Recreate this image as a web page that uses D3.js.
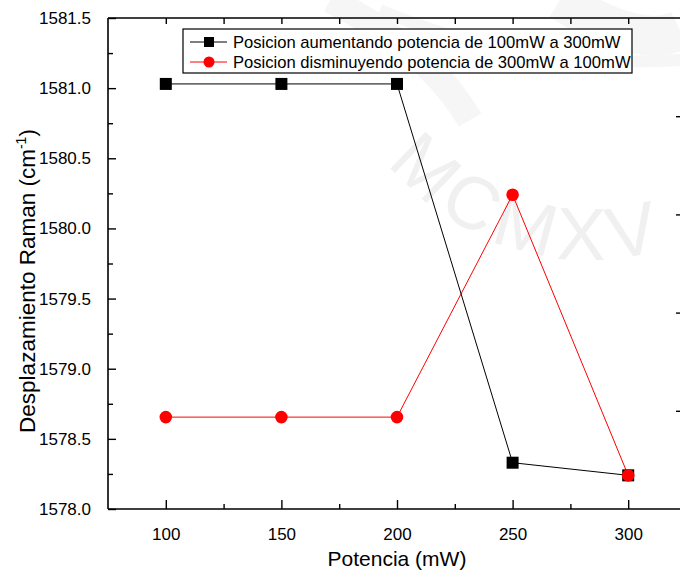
<!DOCTYPE html>
<html>
<head>
<meta charset="utf-8">
<script src="https://cdn.jsdelivr.net/npm/d3@7"></script>
<style>
  html, body { margin: 0; padding: 0; background: #fff; }
  svg { display: block; font-family: "Liberation Sans", Arial, sans-serif; }
</style>
</head>
<body>
<svg id="chart" width="680" height="573"></svg>
<script>
// Laser power (mW) and Raman G-band position (cm^-1)
const potencia = [100, 150, 200, 250, 300];
const aumentando = [1581.03, 1581.03, 1581.03, 1578.33, 1578.24];
const disminuyendo = [1578.655, 1578.655, 1578.655, 1580.24, 1578.24];
const xTicks = [100, 150, 200, 250, 300];
const yTicks = [1578.0, 1578.5, 1579.0, 1579.5, 1580.0, 1580.5, 1581.0, 1581.5];
const seriesNames = [
  "Posicion aumentando potencia de 100mW a 300mW",
  "Posicion disminuyendo potencia de 300mW a 100mW"
];

const svg = d3.select("#chart");
const m = { left: 108, top: 18, right: 686, bottom: 509 };

const x = d3.scaleLinear().domain([75, 325]).range([m.left, m.right]);
const y = d3.scaleLinear().domain([1578.0, 1581.5]).range([m.bottom, m.top]);
const yRight = d3.scaleLinear().domain([0, 5]).range([m.bottom, m.top]);

// faint seal watermark behind the plot
const wm = svg.append("g").attr("fill", "none").attr("stroke", "#f6f6f6");
wm.append("path").attr("d", "M 330 0 Q 430 50 470 120").attr("stroke-width", 26);
wm.append("path").attr("d", "M 560 0 Q 640 50 680 30").attr("stroke-width", 40);
wm.append("path").attr("d", "M 380 10 Q 520 70 680 60").attr("stroke-width", 12);
svg.append("defs").append("path").attr("id", "sealArc")
  .attr("d", "M 365 130 A 260 260 0 0 0 815 130");
svg.append("text").attr("font-size", 74).attr("fill", "#f0f0f0")
  .attr("letter-spacing", 7)
  .append("textPath").attr("href", "#sealArc").attr("startOffset", 40)
  .text("MCMXV");

const axisColor = "#000";
const g = svg.append("g");

// frame
[[m.left, m.bottom, m.right, m.bottom], [m.left, m.top, m.right, m.top],
 [m.left, m.top, m.left, m.bottom], [m.right, m.top, m.right, m.bottom]].forEach(s => {
  g.append("line").attr("x1", s[0]).attr("y1", s[1]).attr("x2", s[2]).attr("y2", s[3])
    .attr("stroke", axisColor).attr("stroke-width", 1.6);
});

// bottom axis (inward ticks)
const xb = d3.axisBottom(x).tickValues(xTicks).tickSize(-9).tickPadding(19).tickFormat(d3.format("d"));
const gxb = g.append("g").attr("transform", `translate(0,${m.bottom})`).call(xb);
gxb.select(".domain").remove();
gxb.selectAll(".tick line").attr("stroke-width", 1.4);
gxb.selectAll(".tick text").attr("font-size", 17).attr("fill", "#000").attr("font-family", "Liberation Sans, Arial");
const xMinor = [125, 175, 225, 275];
g.append("g").attr("transform", `translate(0,${m.bottom})`)
  .call(d3.axisBottom(x).tickValues(xMinor).tickSize(-5).tickFormat(""))
  .call(s => { s.select(".domain").remove(); s.selectAll("line").attr("stroke-width", 1.4); });

// top axis ticks
g.append("g").attr("transform", `translate(0,${m.top})`)
  .call(d3.axisTop(x).tickValues(xTicks.concat(xMinor)).tickSize(-6).tickFormat(""))
  .call(s => { s.select(".domain").remove(); s.selectAll("line").attr("stroke-width", 1.4); });

// left axis
const yl = d3.axisLeft(y).tickValues(yTicks).tickSize(-8).tickPadding(17).tickFormat(d3.format(".1f"));
const gyl = g.append("g").attr("transform", `translate(${m.left},0)`).call(yl);
gyl.select(".domain").remove();
gyl.selectAll(".tick line").attr("stroke-width", 1.4);
gyl.selectAll(".tick text").attr("font-size", 17).attr("fill", "#000").attr("font-family", "Liberation Sans, Arial");
const yMinor = d3.range(1578.25, 1581.5, 0.5);
g.append("g").attr("transform", `translate(${m.left},0)`)
  .call(d3.axisLeft(y).tickValues(yMinor).tickSize(-5).tickFormat(""))
  .call(s => { s.select(".domain").remove(); s.selectAll("line").attr("stroke-width", 1.4); });

// right axis ticks
g.append("g").attr("transform", `translate(${m.right},0)`)
  .call(d3.axisRight(yRight).tickValues([1, 2, 3, 4]).tickSize(-10).tickFormat(""))
  .call(s => { s.select(".domain").remove(); s.selectAll("line").attr("stroke-width", 1.4); });

// axis titles
svg.append("text").attr("x", 397).attr("y", 566).attr("text-anchor", "middle")
  .attr("font-size", 21).attr("fill", "#000").text("Potencia (mW)");
const yt = svg.append("text").attr("transform", "translate(35,281) rotate(-90)")
  .attr("text-anchor", "middle").attr("font-size", 22.5).attr("fill", "#000");
yt.append("tspan").text("Desplazamiento Raman (cm");
yt.append("tspan").attr("font-size", 14).attr("dy", -9).text("-1");
yt.append("tspan").attr("dy", 9).text(")");

// series
const line = d3.line().x(d => x(d[0])).y(d => y(d[1]));
const blackPts = potencia.map((p, i) => [p, aumentando[i]]);
const redPts = potencia.map((p, i) => [p, disminuyendo[i]]);

svg.append("path").datum(redPts).attr("d", line).attr("fill", "none")
  .attr("stroke", "#ff0000").attr("stroke-width", 1);
svg.append("path").datum(blackPts).attr("d", line).attr("fill", "none")
  .attr("stroke", "#000").attr("stroke-width", 1);

const sq = 12;
svg.append("g").selectAll("rect").data(blackPts).join("rect")
  .attr("x", d => x(d[0]) - sq / 2).attr("y", d => y(d[1]) - sq / 2)
  .attr("width", sq).attr("height", sq).attr("fill", "#000");
svg.append("g").selectAll("circle").data(redPts).join("circle")
  .attr("cx", d => x(d[0])).attr("cy", d => y(d[1])).attr("r", 6.3).attr("fill", "#ff0000");

// legend
const lg = svg.append("g").attr("transform", "translate(183,29)");
lg.append("rect").attr("width", 449).attr("height", 44).attr("fill", "#fff")
  .attr("stroke", "#000").attr("stroke-width", 1.2);
const rows = [
  { name: seriesNames[0], color: "#000", shape: "square", cy: 13 },
  { name: seriesNames[1], color: "#ff0000", shape: "circle", cy: 33 }
];
rows.forEach(r => {
  lg.append("line").attr("x1", 7).attr("x2", 44).attr("y1", r.cy).attr("y2", r.cy)
    .attr("stroke", r.color).attr("stroke-width", 1);
  if (r.shape === "square") {
    lg.append("rect").attr("x", 26 - 5).attr("y", r.cy - 5).attr("width", 10).attr("height", 10).attr("fill", r.color);
  } else {
    lg.append("circle").attr("cx", 26).attr("cy", r.cy).attr("r", 5.5).attr("fill", r.color);
  }
  lg.append("text").attr("x", 50).attr("y", r.cy + 6).attr("font-size", 16.6)
    .attr("fill", "#000").text(r.name);
});
</script>
</body>
</html>
